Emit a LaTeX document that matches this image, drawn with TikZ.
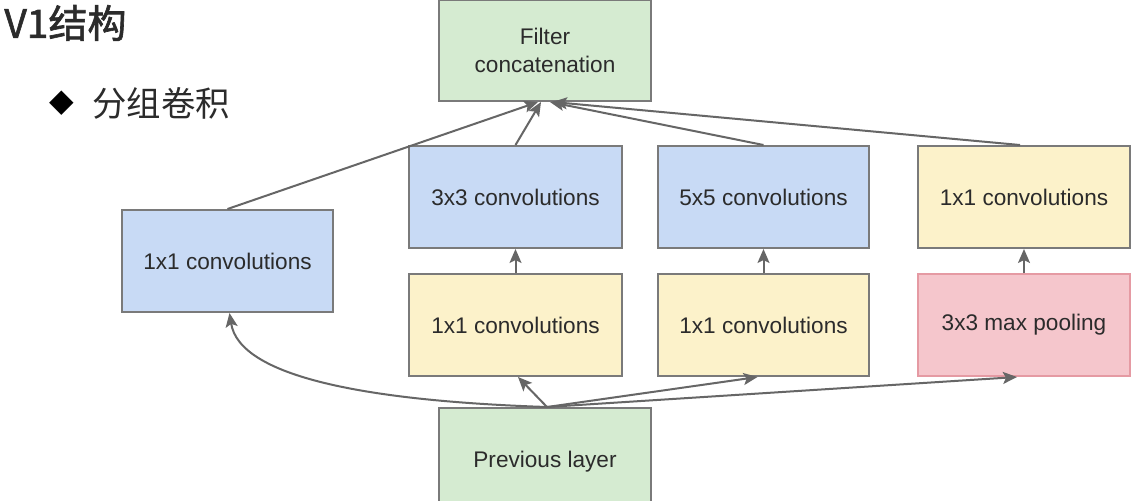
\documentclass[tikz,border=0pt]{standalone}
\usepackage{fontspec}
\setmainfont{Liberation Sans}
\newfontfamily\cjk{Noto Sans CJK SC}
\newfontfamily\cjkb[FakeBold=1.6]{Noto Sans CJK SC}
\newfontfamily\symf{DejaVu Sans}
\usetikzlibrary{arrows.meta}
\definecolor{bordergray}{HTML}{7A7A7A}
\definecolor{txtgray}{HTML}{2B2B2B}
\definecolor{gfill}{HTML}{D5EBD1}
\definecolor{bfill}{HTML}{C8DAF5}
\definecolor{yfill}{HTML}{FCF2CA}
\definecolor{pfill}{HTML}{F5C6CC}
\definecolor{pborder}{HTML}{E59AA3}
\definecolor{linegray}{HTML}{666666}
\tikzset{
  box/.style={draw=bordergray, line width=1pt, minimum width=106pt, minimum height=51pt,
    inner sep=0pt, align=center, font=\fontsize{11.3}{14}\selectfont, text=txtgray},
  gbox/.style={box, fill=gfill},
  bbox/.style={box, fill=bfill},
  ybox/.style={box, fill=yfill},
  pbox/.style={box, fill=pfill, draw=pborder},
  conn/.style={draw=linegray, line width=1pt, -{Stealth[length=7pt,width=6pt,inset=1.5pt]}},
}
\begin{document}
\begin{tikzpicture}[x=0.5pt,y=-0.5pt]
\clip (0,0) rectangle (1132,500);
\fill[white] (0,0) rectangle (1132,500);
% title
\node[anchor=west, inner sep=0pt, text=txtgray] (title) at (4,23) {\cjkb\fontsize{19.5}{21}\selectfont V1结构};
\node[anchor=center, inner sep=0pt] (bullet) at (62,103) {\symf\fontsize{16}{17}\selectfont ◆};
\node[anchor=west, inner sep=0pt, text=txtgray] (sub) at (92,103) {\cjk\fontsize{17.2}{18}\selectfont 分组卷积};
% boxes
\node[gbox, minimum height=50.5pt] (concat) at (545,50.5) {Filter\\concatenation};
\node[bbox, minimum width=105.5pt] (left) at (227.5,261) {1x1 convolutions};
\node[bbox, minimum width=106.5pt] (b33) at (515.5,197) {3x3 convolutions};
\node[bbox, minimum width=105.5pt] (b55) at (763.5,197) {5x5 convolutions};
\node[ybox] (r11) at (1024,197) {1x1 convolutions};
\node[ybox, minimum width=106.5pt] (y1) at (515.5,325) {1x1 convolutions};
\node[ybox, minimum width=105.5pt] (y2) at (763.5,325) {1x1 convolutions};
\node[pbox] (pool) at (1024,325) {3x3 max pooling};
\node[gbox, minimum height=54pt] (prev) at (545,462) {Previous layer};
% connectors to concat
\draw[conn] (left.north) -- ([xshift=-3.5pt]concat.south);
\draw[conn] (b33.north) -- ([xshift=-2pt]concat.south);
\draw[conn] (b55.north) -- ([xshift=2.5pt]concat.south);
\draw[conn] ([xshift=-2pt]r11.north) -- ([xshift=4pt]concat.south);
% vertical
\draw[conn] (y1.north) -- (b33.south);
\draw[conn] (y2.north) -- (b55.south);
\draw[conn] (pool.north) -- (r11.south);
% from previous layer
\draw[conn] ([xshift=1pt]prev.north) .. controls +(-90pt,3pt) and +(5pt,-32pt) .. ([xshift=1pt]left.south);
\draw[conn] ([xshift=1pt]prev.north) -- ([xshift=1.25pt]y1.south);
\draw[conn] ([xshift=1pt]prev.north) -- ([xshift=-3pt]y2.south);
\draw[conn] ([xshift=1pt]prev.north) -- ([xshift=-3.5pt]pool.south);
\end{tikzpicture}
\end{document}
